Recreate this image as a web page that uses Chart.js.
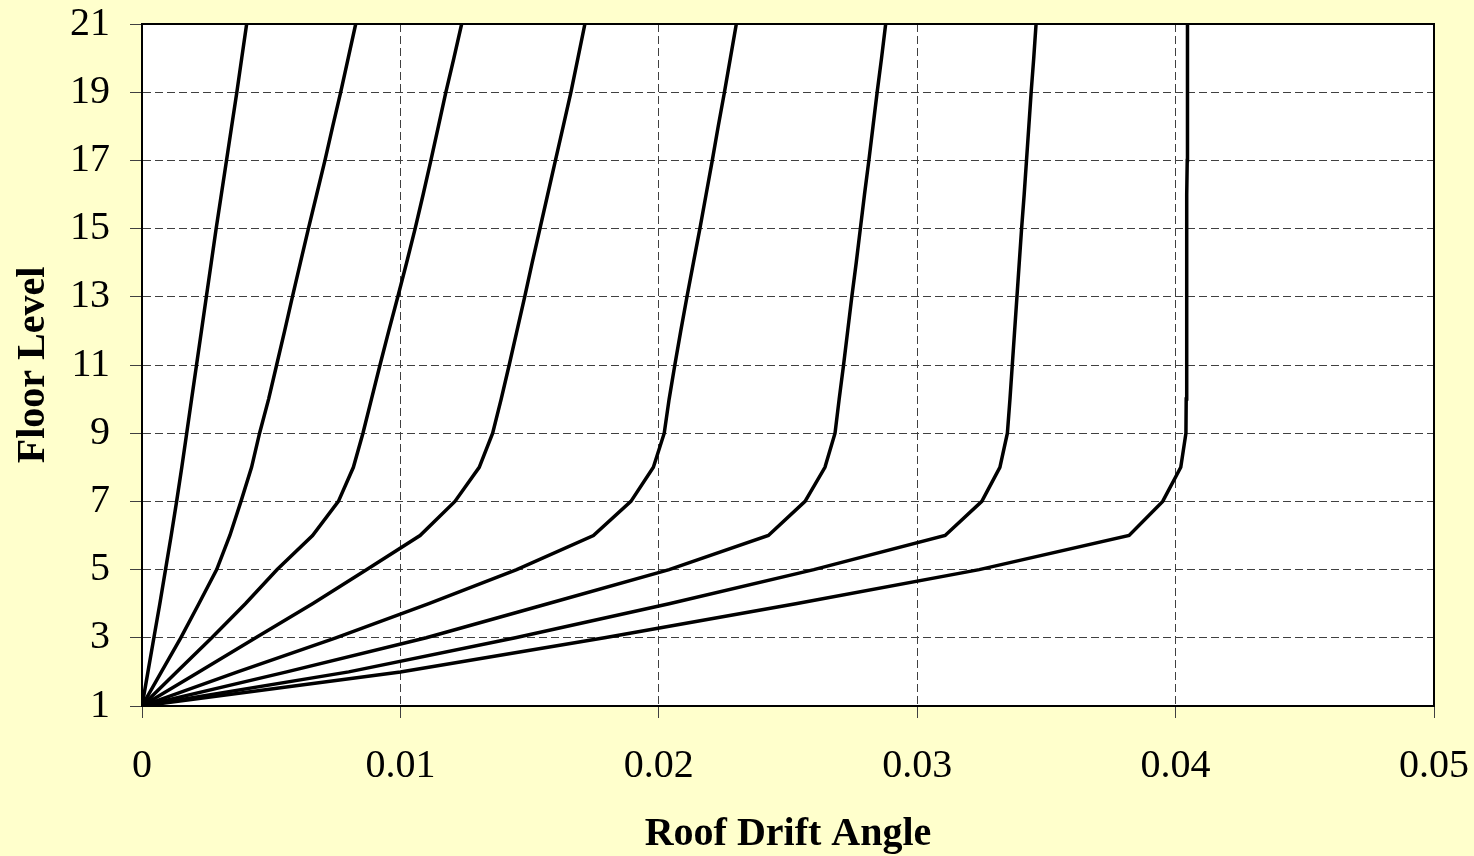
<!DOCTYPE html>
<html>
<head>
<meta charset="utf-8">
<title>Roof Drift Angle</title>
<script src="https://cdn.jsdelivr.net/npm/chart.js@4.4.1/dist/chart.umd.min.js"></script>
<style>
html,body{margin:0;padding:0;background:#FFFFCC;}
#wrap{width:1474px;height:856px;position:relative;}
</style>
</head>
<body>
<div id="wrap"><canvas id="driftChart"></canvas></div>
<script>

// ================= DATA =================

const floors=[1,2,3,4,5,6,7,8,9,10,11,12,13,14,15,16,17,18,19,20,21];

const drift1=[0,0.00023,0.00046,0.00069,0.00091,0.00113,0.00134,0.00154,0.00173,0.00192,0.00211,0.0023,0.00249,0.00268,0.00287,0.00307,0.00327,0.00347,0.00367,0.00386,0.00405];
const drift2=[0,0.00075,0.0015,0.0022,0.00289,0.0034,0.00383,0.00424,0.00455,0.0049,0.00521,0.00552,0.00582,0.00613,0.00644,0.00676,0.00708,0.00738,0.00769,0.00798,0.00827];
const drift3=[0,0.00134,0.0027,0.004,0.00523,0.0066,0.0076,0.00818,0.00855,0.00888,0.00921,0.00955,0.0099,0.01024,0.01057,0.01088,0.01118,0.01147,0.01176,0.01207,0.01237];
const drift4=[0,0.0022,0.0044,0.0066,0.0087,0.01076,0.01211,0.01305,0.01357,0.0139,0.01421,0.01451,0.01481,0.0151,0.0154,0.0157,0.016,0.0163,0.0166,0.01687,0.01714];
const drift5=[0,0.0037,0.0075,0.0111,0.0145,0.01747,0.01892,0.01979,0.02021,0.0204,0.02062,0.02085,0.02109,0.02134,0.02159,0.02183,0.02207,0.0223,0.02254,0.02277,0.023];
const drift6=[0,0.0056,0.011,0.0157,0.0204,0.02424,0.02566,0.02643,0.02682,0.02698,0.02715,0.02731,0.02747,0.02764,0.0278,0.02796,0.02813,0.02829,0.02845,0.02862,0.02878];
const drift7=[0,0.008,0.01445,0.0204,0.026,0.03108,0.0325,0.0332,0.03349,0.03359,0.03368,0.03377,0.03386,0.03395,0.03404,0.03414,0.03423,0.03432,0.03441,0.03451,0.0346];
const drift8=[0,0.01,0.0179,0.0253,0.0324,0.0382,0.0395,0.0402,0.0404,0.04041,0.04042,0.04042,0.04043,0.04043,0.04044,0.04044,0.04045,0.04045,0.04046,0.04046,0.04047];

const xTickLabels=["0","0.01","0.02","0.03","0.04","0.05"];
const yTickLabels=["1","3","5","7","9","11","13","15","17","19","21"];

const curves=[drift1,drift2,drift3,drift4,drift5,drift6,drift7,drift8];

// ================= DATASETS =================

const datasets=curves.map(c=>({
data:floors.map((f,i)=>({x:c[i],y:f})),
showLine:true,
borderColor:"#000",
borderWidth:3.5,
pointRadius:0,
tension:0,
fill:false
}));

// ================= BACKGROUND + FRAME =================

const framePlugin={
id:"frame",
beforeDraw(chart){
const ctx=chart.ctx;
const a=chart.chartArea;
ctx.save();
ctx.fillStyle="#FFFFCC";
ctx.fillRect(0,0,chart.width,chart.height);
ctx.fillStyle="#FFFFFF";
ctx.fillRect(a.left,a.top,a.right-a.left,a.bottom-a.top);
ctx.restore();
},
afterDraw(chart){
const ctx=chart.ctx;
const a=chart.chartArea;
ctx.save();
ctx.strokeStyle="#000";
ctx.lineWidth=2;
ctx.strokeRect(a.left,a.top,a.right-a.left,a.bottom-a.top);
ctx.restore();
}
};

// ================= CHART =================

const serif="'Liberation Serif','Times New Roman',serif";

new Chart(document.getElementById("driftChart"),{

type:"scatter",

data:{datasets:datasets},

options:{
responsive:true,
maintainAspectRatio:false,
animation:false,
layout:{padding:{top:24,right:40,left:0,bottom:0}},
plugins:{
legend:{display:false},
tooltip:{enabled:false}
},
scales:{
x:{
type:"linear",
min:0,
max:0.05,
ticks:{
stepSize:0.01,
padding:24,
color:"#000",
font:{family:serif,size:40},
callback:(v,i)=>xTickLabels[i]
},
grid:{
color:"#404040",
lineWidth:1,
tickLength:12,
tickColor:"#404040",
tickBorderDash:[]
},
border:{display:true,color:"#000",width:2,dash:[8,4]},
title:{
display:true,
text:"Roof Drift Angle",
color:"#000",
font:{family:serif,size:40,weight:"bold"},
padding:{top:0,bottom:-3}
},
afterFit(scale){
scale.height=150;
scale.paddingLeft=0;
scale.paddingRight=0;
}
},
y:{
type:"linear",
min:1,
max:21,
ticks:{
stepSize:2,
padding:20,
color:"#000",
font:{family:serif,size:40},
callback:(v,i)=>yTickLabels[i]
},
grid:{
color:"#404040",
lineWidth:1,
tickLength:12,
tickColor:"#404040",
tickBorderDash:[]
},
border:{display:true,color:"#000",width:2,dash:[8,4]},
title:{
display:true,
text:"Floor Level",
color:"#000",
font:{family:serif,size:40,weight:"bold"},
padding:{top:10,bottom:0}
},
afterFit(scale){
scale.width=142;
scale.paddingTop=0;
scale.paddingBottom=0;
}
}
}
},

plugins:[framePlugin]

});

</script>
</body>
</html>
